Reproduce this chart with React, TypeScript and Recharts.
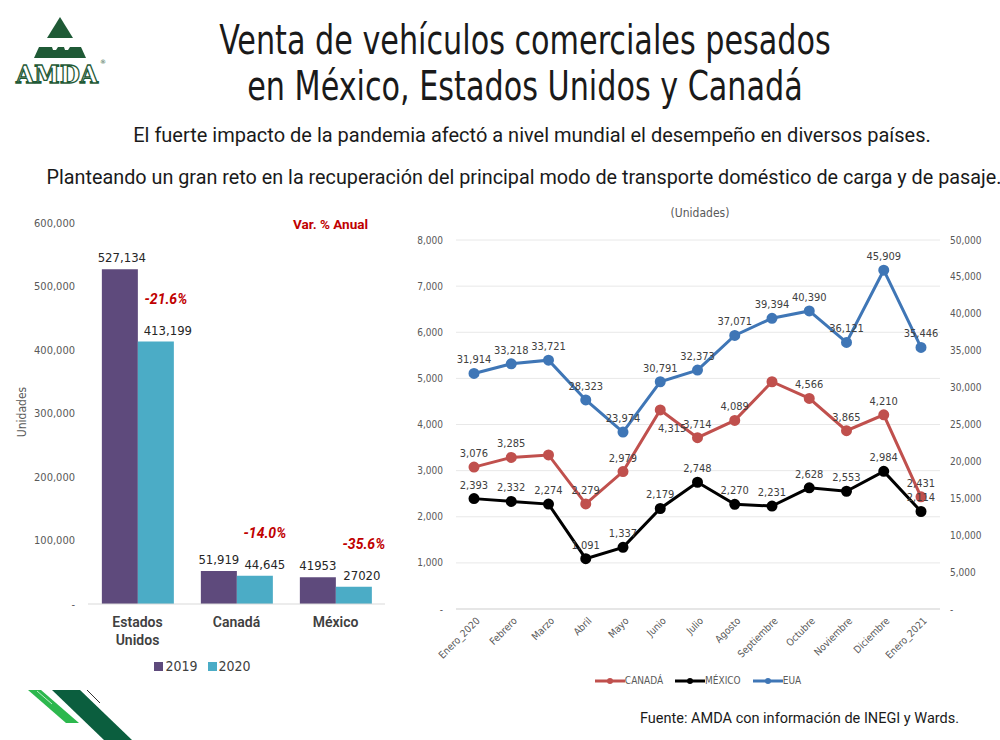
import React from "react"
import {
  Bar,
  BarChart,
  CartesianGrid,
  LabelList,
  Legend,
  Line,
  LineChart,
  XAxis,
  YAxis,
} from "recharts"

// ventas anuales por país
const paises = ["Estados Unidos", "Canadá", "México"]
const ventas2019 = [527134, 51919, 41953]
const ventas2020 = [413199, 44645, 27020]
const etiquetas2019 = ["527,134", "51,919", "41953"]
const etiquetas2020 = ["413,199", "44,645", "27020"]
const variacion = ["-21.6%", "-14.0%", "-35.6%"]
const ticksBarras = [0, 100000, 200000, 300000, 400000, 500000, 600000]

// ventas mensuales
const meses = [
  "Enero_2020",
  "Febrero",
  "Marzo",
  "Abril",
  "Mayo",
  "Junio",
  "Julio",
  "Agosto",
  "Septiembre",
  "Octubre",
  "Noviembre",
  "Diciembre",
  "Enero_2021",
]
const canada = [3076, 3285, 3340, 2279, 2979, 4315, 3714, 4089, 4927, 4566, 3865, 4210, 2431]
const mexico = [2393, 2332, 2274, 1091, 1337, 2179, 2748, 2270, 2231, 2628, 2553, 2984, 2114]
const eua = [31914, 33218, 33721, 28323, 23974, 30791, 32373, 37071, 39394, 40390, 36121, 45909, 35446]
const ticksIzq = [0, 1000, 2000, 3000, 4000, 5000, 6000, 7000, 8000]
const ticksDer = [0, 5000, 10000, 15000, 20000, 25000, 30000, 35000, 40000, 45000, 50000]

const MORADO = "#5e4a7c"
const TURQUESA = "#4bacc6"
const ROJO = "#c0504d"
const AZUL = "#3f76b6"
const GRIS = "#595959"
const ROJO_TXT = "#c00000"

const NARROW = "'DejaVu Sans Condensed', Roboto, sans-serif"

const filasBarras = paises.map((p, i) => ({
  pais: p,
  v2019: ventas2019[i],
  v2020: ventas2020[i],
  et2019: etiquetas2019[i],
  et2020: etiquetas2020[i],
  vari: variacion[i],
}))

const filasMeses = meses.map((m, i) => ({
  mes: m,
  canada: canada[i],
  mexico: mexico[i],
  eua: eua[i],
}))

const fmt = (v: number) => (v === 0 ? "-" : v.toLocaleString("en-US"))

const PaisTick = ({ x, y, payload }: any) => {
  const palabras = String(payload.value).split(" ")
  return (
    <text x={x} y={y + 15} textAnchor="middle" fontSize={14} fontWeight={600} fill="#404040" fontFamily="Roboto">
      {palabras.map((w, i) => (
        <tspan key={i} x={x} dy={i === 0 ? 0 : 18}>
          {w}
        </tspan>
      ))}
    </text>
  )
}

const MesTick = ({ x, y, payload }: any) => (
  <text
    x={x + 4}
    y={y + 2}
    transform={`rotate(-45 ${x + 4} ${y + 2})`}
    textAnchor="end"
    fontSize={10}
    fill={GRIS}
    fontFamily={NARROW}
    dy="0.35em"
  >
    {payload.value}
  </text>
)

// etiqueta de valor sobre la barra, corrida un poco a la derecha como en el original
const barraLabel = (corrimiento: number[]) => ({ x, y, width, value, index }: any) => (
  <text
    x={x + width / 2 + corrimiento[index]}
    y={y - 7}
    textAnchor="middle"
    fontSize={13}
    fill="#262626"
    fontFamily={NARROW}
  >
    {value}
  </text>
)

const VarLabel = ({ x, y, width, value }: any) => (
  <text
    x={x + width / 2 + 10}
    y={y - 38}
    textAnchor="middle"
    fontSize={14}
    fontWeight={700}
    fontStyle="italic"
    fill={ROJO_TXT}
    fontFamily="Roboto"
  >
    {value}
  </text>
)

const puntoLabel = (ocultos: number[], abajo: number[]) => (props: any) => {
  const { x, y, value, index } = props
  if (ocultos.includes(index)) return null
  const dy = abajo.includes(index) ? 22 : -10
  return (
    <text
      x={x + (abajo.includes(index) ? 12 : 0)}
      y={y + dy}
      textAnchor="middle"
      fontSize={11}
      fill="#404040"
      fontFamily={NARROW}
    >
      {fmt(value)}
    </text>
  )
}

const LeyendaBarras = () => (
  <div style={{ display: "flex", justifyContent: "center", gap: 10, fontFamily: NARROW, fontSize: 14, color: "#404040" }}>
    {[
      ["2019", MORADO],
      ["2020", TURQUESA],
    ].map(([t, c]) => (
      <span key={t} style={{ display: "flex", alignItems: "center" }}>
        <span style={{ width: 9, height: 9, background: c, marginRight: 2, display: "inline-block" }} />
        {t}
      </span>
    ))}
  </div>
)

const LeyendaLineas = () => (
  <div style={{ display: "flex", justifyContent: "center", gap: 12, fontFamily: NARROW, fontSize: 10, color: GRIS }}>
    {[
      ["CANADÁ", ROJO],
      ["MÉXICO", "#000"],
      ["EUA", AZUL],
    ].map(([t, c]) => (
      <span key={t} style={{ display: "flex", alignItems: "center" }}>
        <svg width={30} height={10}>
          <line x1={0} y1={5} x2={30} y2={5} stroke={c} strokeWidth={3} />
          <circle cx={15} cy={5} r={3} fill={c} />
        </svg>
        {t}
      </span>
    ))}
  </div>
)

const Logo = () => (
  <svg width={110} height={95} style={{ position: "absolute", left: 0, top: 0 }}>
    <polygon points="60,17 73,38 47,38" fill="#1f5a36" />
    <polygon points="39,47 81,47 86,58 34,58" fill="#1f5a36" />
    <polygon points="52,47 58,47 56,50 53,50" fill="#fff" />
    <polygon points="64,47 70,47 68,50 65,50" fill="#fff" />
    <text
      x={57}
      y={83}
      textAnchor="middle"
      fontSize={24}
      fontWeight={700}
      fontFamily="'DejaVu Serif'"
      fill="#fff"
      stroke="#1f5a36"
      strokeWidth={1.3}
      textLength={82}
      lengthAdjust="spacingAndGlyphs"
    >
      AMDA
    </text>
    <text x={100} y={64} fontSize={6} fill="#1f5a36" fontFamily="'DejaVu Sans'">
      ®
    </text>
  </svg>
)

const Franjas = () => (
  <svg width={140} height={60} style={{ position: "absolute", left: 0, top: 680 }}>
    <polygon points="28,10 41,10 79,43 66,43" fill="#2db84e" />
    <line x1={37} y1={11} x2={52} y2={24} stroke="#bff0c9" strokeWidth={1} />
    <polygon points="52,10 80,10 132,60 104,60" fill="#0b5e3e" />
    <line x1={87} y1={10} x2={100} y2={23} stroke="#333" strokeWidth={1} />
  </svg>
)

export default function App() {
  return (
    <div
      style={{
        position: "absolute",
        left: 0,
        top: 0,
        width: 1000,
        height: 740,
        background: "#fff",
        overflow: "hidden",
        fontFamily: "Roboto, sans-serif",
      }}
    >
      <Logo />
      <div
        style={{
          position: "absolute",
          left: 0,
          width: 1050,
          top: 17,
          textAlign: "center",
          fontFamily: NARROW,
          fontSize: 40,
          lineHeight: "46px",
          color: "#1a1a1a",
          transform: "scaleX(0.84)",
        }}
      >
        Venta de vehículos comerciales pesados
        <br />
        en México, Estados Unidos y Canadá
      </div>
      <div style={{ position: "absolute", left: 0, width: 1064, top: 123, textAlign: "center", fontSize: 20, color: "#1a1a1a" }}>
        El fuerte impacto de la pandemia afectó a nivel mundial el desempeño en diversos países.
      </div>
      <div
        style={{
          position: "absolute",
          left: 13,
          width: 1022,
          top: 166,
          textAlign: "center",
          fontSize: 19.8,
          color: "#1a1a1a",
          whiteSpace: "nowrap",
        }}
      >
        Planteando un gran reto en la recuperación del principal modo de transporte doméstico de carga y de pasaje.
      </div>

      {/* barras */}
      <div
        style={{
          position: "absolute",
          left: 14,
          top: 412,
          transform: "translate(-50%, -50%) rotate(-90deg)",
          transformOrigin: "center",
          fontSize: 12,
          color: GRIS,
          fontFamily: NARROW,
          whiteSpace: "nowrap",
          marginLeft: 8,
        }}
      >
        Unidades
      </div>
      <div style={{ position: "absolute", left: 293, top: 216, fontSize: 13.5, fontWeight: 700, color: ROJO_TXT, fontFamily: "Roboto" }}>
        Var. % Anual
      </div>
      <div style={{ position: "absolute", left: 0, top: 200 }}>
        <BarChart
          width={400}
          height={490}
          data={filasBarras}
          margin={{ top: 23, right: 15, bottom: 4, left: 20 }}
          barCategoryGap="14%"
          barGap={0}
        >
          <XAxis dataKey="pais" tick={<PaisTick />} tickLine={false} axisLine={{ stroke: "#d9d9d9" }} height={54} interval={0} />
          <YAxis
            domain={[0, 600000]}
            ticks={ticksBarras}
            tickFormatter={fmt}
            axisLine={false}
            tickLine={false}
            tickMargin={7}
            width={68}
            tick={{ fontSize: 11, fill: GRIS, fontFamily: NARROW }}
          />
          <Legend verticalAlign="bottom" height={28} content={<LeyendaBarras />} />
          <Bar dataKey="v2019" name="2019" fill={MORADO} isAnimationActive={false}>
            <LabelList dataKey="et2019" content={barraLabel([2, 0, 0])} />
          </Bar>
          <Bar dataKey="v2020" name="2020" fill={TURQUESA} isAnimationActive={false}>
            <LabelList dataKey="et2020" content={barraLabel([12, 10, 8])} />
            <LabelList dataKey="vari" content={<VarLabel />} />
          </Bar>
        </BarChart>
      </div>

      {/* lineas */}
      <div style={{ position: "absolute", left: 400, width: 600, top: 206, textAlign: "center", fontSize: 12, color: GRIS, fontFamily: NARROW }}>
        (Unidades)
      </div>
      <div style={{ position: "absolute", left: 400, top: 200 }}>
        <LineChart width={600} height={500} data={filasMeses} margin={{ top: 40, right: 14, bottom: 5, left: 10 }}>
          <CartesianGrid vertical={false} stroke="#e8e8e8" yAxisId="izq" />
          <XAxis
            dataKey="mes"
            interval={0}
            padding={{ left: 18, right: 19 }}
            tick={<MesTick />}
            tickLine={false}
            axisLine={{ stroke: "#d9d9d9" }}
            height={66}
          />
          <YAxis
            yAxisId="izq"
            domain={[0, 8000]}
            ticks={ticksIzq}
            tickFormatter={fmt}
            axisLine={false}
            tickLine={false}
            tickMargin={7}
            width={46}
            tick={{ fontSize: 10, fill: GRIS, fontFamily: NARROW }}
          />
          <YAxis
            yAxisId="der"
            orientation="right"
            domain={[0, 50000]}
            ticks={ticksDer}
            tickFormatter={fmt}
            axisLine={false}
            tickLine={false}
            tickMargin={4}
            width={46}
            tick={{ fontSize: 10, fill: GRIS, fontFamily: NARROW, textAnchor: "start" }}
          />
          <Legend verticalAlign="bottom" height={20} content={<LeyendaLineas />} />
          <Line
            yAxisId="der"
            dataKey="eua"
            name="EUA"
            stroke={AZUL}
            strokeWidth={3}
            dot={{ r: 4, fill: AZUL, stroke: AZUL }}
            isAnimationActive={false}
          >
            <LabelList dataKey="eua" content={puntoLabel([], [])} />
          </Line>
          <Line
            yAxisId="izq"
            dataKey="canada"
            name="CANADÁ"
            stroke={ROJO}
            strokeWidth={3}
            dot={{ r: 4, fill: ROJO, stroke: ROJO }}
            isAnimationActive={false}
          >
            <LabelList dataKey="canada" content={puntoLabel([2, 8], [5])} />
          </Line>
          <Line
            yAxisId="izq"
            dataKey="mexico"
            name="MÉXICO"
            stroke="#000"
            strokeWidth={3}
            dot={{ r: 4, fill: "#000", stroke: "#000" }}
            isAnimationActive={false}
          >
            <LabelList dataKey="mexico" content={puntoLabel([], [])} />
          </Line>
        </LineChart>
      </div>

      <Franjas />
      <div style={{ position: "absolute", left: 640, top: 710, fontSize: 14.5, color: "#1a1a1a" }}>
        Fuente: AMDA con información de INEGI y Wards.
      </div>
    </div>
  )
}
